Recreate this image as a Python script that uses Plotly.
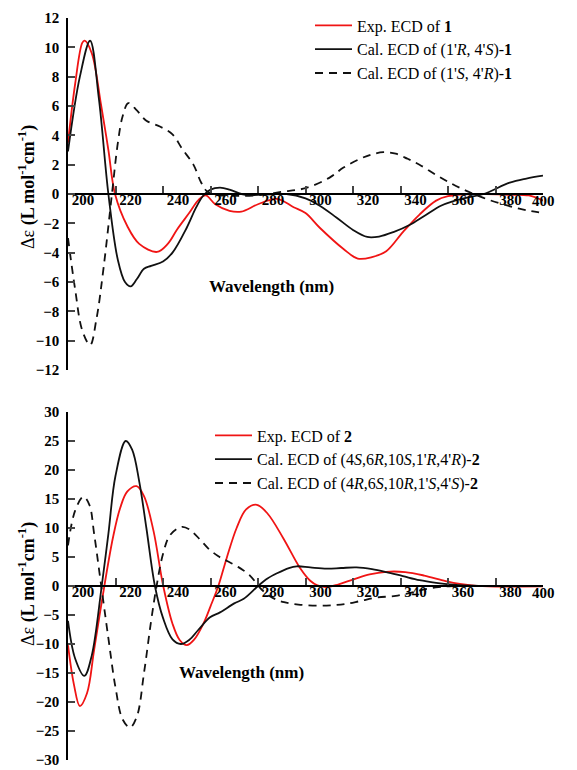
import plotly.graph_objects as go

# ---------------- Data: panel 1 ----------------
exp1_x = [200, 203, 206, 207, 210, 214, 217, 219.8, 225, 230, 237.5, 242, 246, 251, 255, 258,
          262, 268, 273, 280, 288, 295, 300, 306, 316, 322, 328, 334, 341, 348, 355, 360, 370,
          385, 394, 400]
exp1_y = [3.5, 7.5, 10.3, 10.45, 9.6, 6.0, 3.0, 0.0, -2.2, -3.4, -3.95, -3.4, -2.4, -1.3, -0.4, -0.1,
          -0.7, -1.15, -1.2, -0.7, -0.33, -0.9, -1.3, -2.3, -3.75, -4.4, -4.3, -3.9, -2.6, -1.4, -0.45,
          -0.15, 0.0, -0.05, -0.1, -0.45]

calA1_x = [200, 205, 209.3, 213, 217, 221, 224, 226.4, 229, 232, 235, 240, 244, 250, 254, 257,
           260, 264, 268, 273, 277, 285, 292, 300, 306, 313, 320, 326, 331, 337, 344, 350, 357,
           362, 368, 375, 386, 393, 400]
calA1_y = [2.9, 8.0, 10.45, 6.5, 0.0, -4.5, -6.0, -6.3, -5.8, -5.1, -4.9, -4.6, -4.0, -2.3, -0.9, -0.1,
           0.3, 0.43, 0.3, 0.0, -0.07, -0.03, 0.0, -0.3, -0.8, -1.6, -2.45, -2.93, -2.9, -2.6, -2.1,
           -1.5, -0.8, -0.5, -0.25, 0.0, 0.77, 1.05, 1.25]

calB1_x = [200, 203, 206, 209.3, 212, 215, 218.5, 221, 223, 225.4, 229, 233, 238.7, 244, 248,
           252.8, 256, 258.4, 262, 270, 280, 290, 300, 310, 316, 323, 328, 332.8, 338, 343, 348,
           355, 362, 368, 374.7, 382, 390, 395, 400]
calB1_y = [-3.0, -6.5, -9.3, -10.3, -8.5, -5.0, 0.0, 3.5, 5.3, 6.2, 5.7, 5.0, 4.6, 4.07, 3.1,
           2.0, 0.8, 0.2, -0.05, -0.12, -0.08, 0.15, 0.4, 1.1, 1.8, 2.4, 2.7, 2.85, 2.75, 2.4, 2.0,
           1.3, 0.66, 0.2, -0.25, -0.65, -1.0, -1.16, -1.3]

# ---------------- Data: panel 2 ----------------
exp2_x = [200, 202.5, 205, 208, 211, 215.3, 219, 222, 225, 228.9, 232, 236, 240.1, 244, 247, 250,
          253, 257, 260, 263.3, 266.8, 271, 275, 279.5, 284, 290.7, 297.7, 302, 305, 309, 314,
          320, 327, 334, 342, 350, 359, 365, 370, 380, 390, 400]
exp2_y = [-10.2, -17.0, -20.7, -18.5, -11.0, 0.0, 8.5, 13.5, 16.3, 17.2, 15.5, 9.5, 0.0, -6.5, -9.3,
          -10.2, -9.3, -6.5, -3.5, 0.0, 4.8, 10.0, 13.2, 14.0, 12.5, 8.2, 3.1, 0.9, 0.1, -0.2, 0.3,
          1.1, 2.0, 2.45, 2.4, 1.8, 0.85, 0.35, 0.1, -0.1, -0.1, -0.05]

calA2_x = [200, 203, 206.9, 210, 214.2, 217, 220, 224.3, 227, 230, 233, 236.6, 240, 244, 247.5,
           251, 255, 259.8, 264, 270, 274, 280, 284, 288, 293, 296.3, 302, 309, 315, 321.5, 328,
           334, 341, 348, 355, 362, 370, 380, 400]
calA2_y = [-6.0, -12.5, -15.5, -12.0, 0.0, 9.0, 19.0, 25.0, 23.5, 18.0, 10.0, 0.0, -5.5, -9.2, -10.0,
           -9.3, -7.5, -5.4, -4.55, -3.0, -2.2, 0.0, 1.3, 2.2, 3.1, 3.4, 3.2, 3.0, 3.1, 3.2, 2.9,
           2.4, 1.7, 1.0, 0.55, 0.25, 0.05, 0.0, 0.0]

calB2_x = [200, 203, 206.5, 209, 211, 214, 217, 220, 223, 226.1, 229, 232, 235, 237.3, 240, 243,
           247.9, 251, 255.6, 259, 263, 267, 271.6, 276.6, 281.5, 286, 291, 297, 305, 312, 317,
           323, 330, 338, 345, 350, 356, 362, 380, 400]
calB2_y = [7.0, 13.0, 15.4, 14.0, 9.0, 0.0, -9.0, -17.5, -23.0, -24.4, -22.5, -15.0, -6.0, 0.0, 5.5,
           8.8, 10.2, 9.8, 8.0, 6.5, 5.2, 4.3, 3.3, 1.8, -0.6, -2.0, -2.8, -3.2, -3.4, -3.3, -3.1,
           -2.6, -2.0, -1.7, -1.1, -0.6, -0.2, 0.0, 0.0, 0.0]

x_ticks = [200, 220, 240, 260, 280, 300, 320, 340, 360, 380, 400]
x_ticktext = ["200", "220", "240", "260", "280", "300", "320", "340", "360", "380", ""]
x_last_label = "400"
y1_ticks = list(range(-12, 13, 2))
y2_ticks = list(range(-30, 31, 5))

names1 = ["Exp. ECD of <b>1</b>",
          "Cal. ECD of (1'<i>R</i>, 4'<i>S</i>)-<b>1</b>",
          "Cal. ECD of (1'<i>S</i>, 4'<i>R</i>)-<b>1</b>"]
names2 = ["Exp. ECD of <b>2</b>",
          "Cal. ECD of (4<i>S</i>,6<i>R</i>,10<i>S</i>,1'<i>R</i>,4'<i>R</i>)-<b>2</b>",
          "Cal. ECD of (4<i>R</i>,6<i>S</i>,10<i>R</i>,1'<i>S</i>,4'<i>S</i>)-<b>2</b>"]
ytitle_text = "Δε <b>(L mol<sup>-1</sup>cm<sup>-1</sup>)</b>"
xtitle_text = "<b>Wavelength (nm)</b>"

RED = "#f01414"
BLK = "#111111"
FONT = "Liberation Serif, DejaVu Serif, serif"
LW = 1.8
DASH = "8px,6px"

fig = go.Figure()

def add(x, y, name, color, dash, xa, ya, leg):
    fig.add_trace(go.Scatter(x=x, y=y, name=name, mode="lines",
                             line=dict(color=color, width=LW, dash=dash, shape="spline", smoothing=1.0),
                             xaxis=xa, yaxis=ya, legend=leg))

add(exp1_x, exp1_y, names1[0], RED, "solid", "x", "y", "legend")
add(calA1_x, calA1_y, names1[1], BLK, "solid", "x", "y", "legend")
add(calB1_x, calB1_y, names1[2], BLK, DASH, "x", "y", "legend")
add(exp2_x, exp2_y, names2[0], RED, "solid", "x2", "y2", "legend2")
add(calA2_x, calA2_y, names2[1], BLK, "solid", "x2", "y2", "legend2")
add(calB2_x, calB2_y, names2[2], BLK, DASH, "x2", "y2", "legend2")

top_dom = [0.5256, 1.0]
bot_dom = [0.0, 0.469]
H = 742.0
W = 475.0

tickfont = dict(family=FONT, size=15, color="black", weight="bold")
xcommon = dict(range=[200, 400], tickvals=x_ticks, ticktext=x_ticktext, ticks="inside", ticklen=7,
               tickwidth=1.5, showline=True, linecolor="black", linewidth=1.5, showgrid=False,
               zeroline=False, tickfont=tickfont, ticklabelshift=15, ticklabelstandoff=-8,
               anchor="free", domain=[0, 1], automargin=False)
ycommon = dict(ticks="inside", ticklen=7, tickwidth=1.5, showline=True, linecolor="black",
               linewidth=1.5, showgrid=False, zeroline=False, anchor="x",
               tickfont=tickfont, ticklabelstandoff=4, automargin=False)

def px_x(p):
    return (p - 68) / W

def px_y(p):
    return (760 - p) / H

annotations = []
for xa, ya in (("x", "y"), ("x2", "y2")):
    annotations.append(dict(text="<b>" + x_last_label + "</b>", x=400, y=0, xref=xa, yref=ya,
                            showarrow=False, xanchor="center", yanchor="middle", yshift=-7,
                            font=tickfont))
for (cx, cy) in ((271, 286), (241, 672)):
    annotations.append(dict(text=xtitle_text, x=px_x(cx), y=px_y(cy), xref="paper", yref="paper",
                            showarrow=False, xanchor="center", yanchor="middle",
                            font=dict(family=FONT, size=17, color="black")))
for (cx, cy) in ((27, 187), (27, 584)):
    annotations.append(dict(text=ytitle_text, x=px_x(cx), y=px_y(cy), xref="paper", yref="paper",
                            showarrow=False, xanchor="center", yanchor="middle", textangle=-90,
                            font=dict(family=FONT, size=18, color="black")))

fig.update_layout(
    width=577, height=770,
    margin=dict(l=68, r=34, t=18, b=10, autoexpand=False),
    paper_bgcolor="white", plot_bgcolor="white",
    font=dict(family=FONT, color="black"),
    showlegend=True,
    xaxis=dict(**xcommon, position=(top_dom[0] + top_dom[1]) / 2),
    xaxis2=dict(**xcommon, position=(bot_dom[0] + bot_dom[1]) / 2),
    yaxis=dict(**ycommon, range=[-12, 12], tickvals=y1_ticks, domain=top_dom),
    yaxis2=dict(**{**ycommon, "anchor": "x2"}, range=[-30, 30], tickvals=y2_ticks, domain=bot_dom),
    legend=dict(x=px_x(310), y=1.0 + 9.5 / H, xanchor="left", yanchor="top",
                font=dict(family=FONT, size=16, color="black"), bgcolor="rgba(0,0,0,0)",
                itemwidth=37, tracegroupgap=0),
    legend2=dict(x=px_x(210), y=px_y(418.5), xanchor="left", yanchor="top",
                 font=dict(family=FONT, size=16, color="black"), bgcolor="rgba(0,0,0,0)",
                 itemwidth=37, tracegroupgap=0),
    annotations=annotations,
)

fig.write_html("out.html", config={"displayModeBar": False},
               post_script="document.body.style.margin='0px';")
